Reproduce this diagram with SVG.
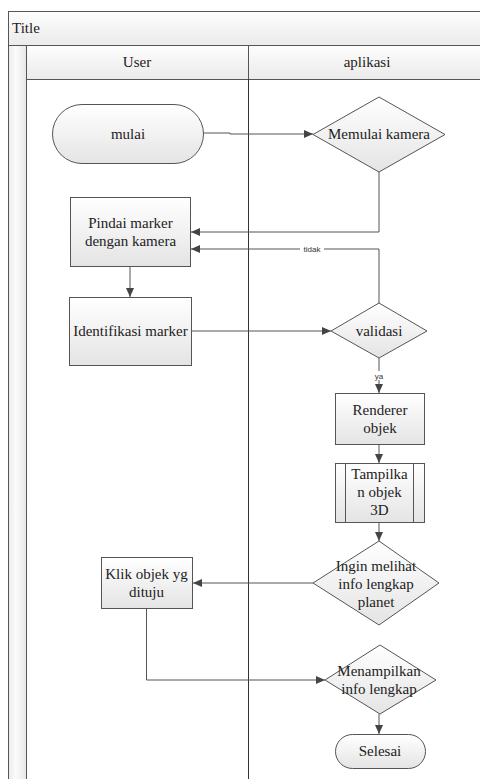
<svg xmlns="http://www.w3.org/2000/svg" width="480" height="779" viewBox="0 0 480 779">
<defs>
<linearGradient id="g" x1="0" y1="0" x2="0" y2="1"><stop offset="0" stop-color="#ffffff"/><stop offset="1" stop-color="#e4e4e4"/></linearGradient>
<linearGradient id="hg" x1="0" y1="0" x2="0" y2="1"><stop offset="0" stop-color="#fdfdfd"/><stop offset="1" stop-color="#ebebeb"/></linearGradient>
<linearGradient id="vg" x1="0" y1="0" x2="1" y2="0"><stop offset="0" stop-color="#ebebeb"/><stop offset="0.4" stop-color="#fbfbfb"/><stop offset="1" stop-color="#e6e6e6"/></linearGradient>
<marker id="a" markerWidth="10" markerHeight="10" refX="9" refY="5" orient="auto" markerUnits="userSpaceOnUse"><path d="M0,1 L9,5 L0,9 Z" fill="#444"/></marker>
</defs>
<style>
.n{fill:url(#g);stroke:#555;stroke-width:1}
.t{font-size:15px;fill:#222;text-anchor:middle}
.c{fill:none;stroke:#555;stroke-width:1;marker-end:url(#a)}
.l{font-size:8px;fill:#333;text-anchor:middle}
</style>
<g id="frame">
<rect x="8.5" y="11.5" width="490" height="790" fill="#fff" stroke="#555"/>
<rect x="8.5" y="11.5" width="490" height="34" fill="url(#hg)" stroke="#555"/>
<text x="12" y="33" font-family="'Liberation Serif', 'DejaVu Serif', serif" font-size="15" fill="#222">Title</text>
<rect x="8.5" y="45.5" width="18" height="760" fill="url(#vg)" stroke="#555"/>
<rect x="26.5" y="45.5" width="222" height="34" fill="url(#hg)" stroke="#555"/>
<rect x="248.5" y="45.5" width="240" height="34" fill="url(#hg)" stroke="#555"/>
<g font-family="'Liberation Serif', 'DejaVu Serif', serif">
<text class="t" x="137" y="67">User</text>
<text class="t" x="367" y="67">aplikasi</text>
</g>
<line x1="248.5" y1="79" x2="248.5" y2="790" stroke="#333"/>
</g>
<g id="connectors">
<path class="c" d="M203,133 H230 V134 H313"/>
<path class="c" d="M379,172 V232 H191"/>
<path class="c" d="M379,304 V249 H191"/>
<path class="c" d="M130,266 V297"/>
<path class="c" d="M192,331 H331"/>
<path class="c" d="M379,358 V393"/>
<path class="c" d="M379,444 V463"/>
<path class="c" d="M379,522 V541"/>
<path class="c" d="M313,583 H193"/>
<path class="c" d="M146.5,608 V680 H325"/>
<path class="c" d="M379,714 V734"/>
<g font-family="'Liberation Sans', Arial, sans-serif">
<rect x="300" y="244" width="24" height="9" fill="#fff"/>
<text class="l" x="312" y="252">tidak</text>
<rect x="372" y="371" width="14" height="9" fill="#fff"/>
<text class="l" x="379" y="379">ya</text>
</g>
</g>
<g font-family="'Liberation Serif', 'DejaVu Serif', serif">
<g id="mulai">
<rect class="n" x="52.5" y="104.5" width="151" height="59" rx="29.5"/>
<text class="t" x="128" y="139">mulai</text>
</g>
<g id="memulai-kamera">
<polygon class="n" points="379,97 445,134.5 379,172 313,134.5"/>
<text class="t" x="379" y="139">Memulai kamera</text>
</g>
<g id="pindai-marker">
<rect class="n" x="70.5" y="197.5" width="120" height="69"/>
<text class="t" x="130.5" y="228">Pindai marker</text>
<text class="t" x="130.5" y="246">dengan kamera</text>
</g>
<g id="identifikasi-marker">
<rect class="n" x="69.5" y="297.5" width="122" height="68"/>
<text class="t" x="130.5" y="336">Identifikasi marker</text>
</g>
<g id="validasi">
<polygon class="n" points="379,303 427,331 379,358 331,331"/>
<text class="t" x="379" y="336">validasi</text>
</g>
<g id="renderer-objek">
<rect class="n" x="335.5" y="393.5" width="89" height="51"/>
<text class="t" x="380" y="415">Renderer</text>
<text class="t" x="380" y="433">objek</text>
</g>
<g id="tampilkan-objek">
<rect class="n" x="335.5" y="463.5" width="89" height="59"/>
<line x1="345.5" y1="463.5" x2="345.5" y2="522.5" stroke="#555"/>
<line x1="413.5" y1="463.5" x2="413.5" y2="522.5" stroke="#555"/>
<text class="t" x="379.5" y="479">Tampilka</text>
<text class="t" x="379.5" y="497">n objek</text>
<text class="t" x="379.5" y="515">3D</text>
</g>
<g id="ingin-melihat">
<polygon class="n" points="379,541 439,583 379,625 313,583"/>
<text class="t" x="376" y="571">Ingin melihat</text>
<text class="t" x="376" y="589">info lengkap</text>
<text class="t" x="376" y="607">planet</text>
</g>
<g id="klik-objek">
<rect class="n" x="101.5" y="557.5" width="91" height="51"/>
<text class="t" x="146.5" y="579">Klik objek yg</text>
<text class="t" x="146.5" y="597">dituju</text>
</g>
<g id="menampilkan-info">
<polygon class="n" points="380,645 436,680 380,714 325,680"/>
<text class="t" x="379" y="676">Menampilkan</text>
<text class="t" x="379" y="694">info lengkap</text>
</g>
<g id="selesai">
<rect class="n" x="335.5" y="734.5" width="90" height="34" rx="17"/>
<text class="t" x="380" y="756">Selesai</text>
</g>
</g>
</svg>
